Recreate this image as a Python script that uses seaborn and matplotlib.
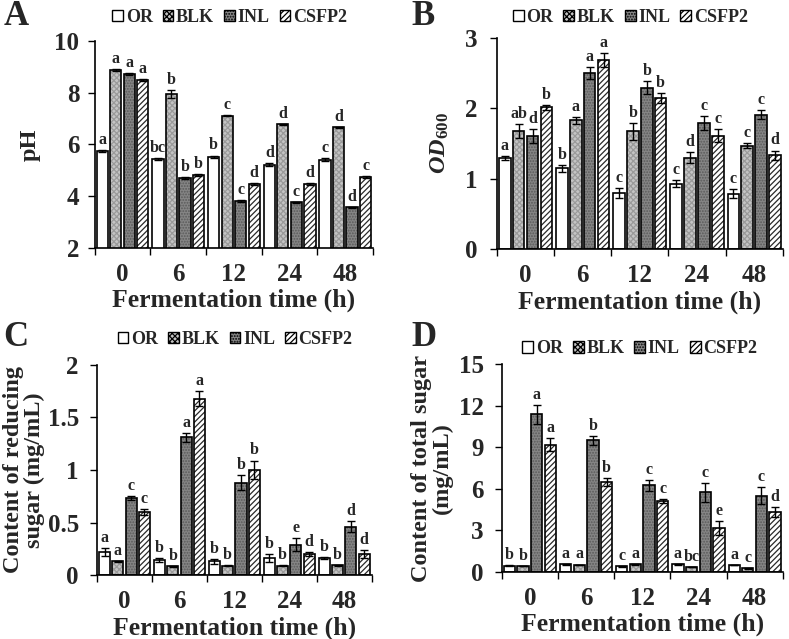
import numpy as np
import pandas as pd
import matplotlib
matplotlib.use("Agg")
import matplotlib.pyplot as plt
import seaborn as sns
from matplotlib.patches import Rectangle, Patch

# ---------------- data ----------------
times = ["0", "6", "12", "24", "48"]
groups = ["OR", "BLK", "INL", "CSFP2"]

# A: pH
ph_OR = [5.75, 5.45, 5.53, 5.22, 5.41]
ph_BLK = [8.87, 7.95, 7.10, 6.78, 6.66]
ph_INL = [8.72, 4.70, 3.80, 3.77, 3.57]
ph_CSFP2 = [8.48, 4.82, 4.47, 4.48, 4.73]
ph_err_OR = [0.03, 0.04, 0.04, 0.06, 0.05]
ph_err_BLK = [0.05, 0.15, 0.02, 0.02, 0.02]
ph_err_INL = [0.03, 0.03, 0.04, 0.02, 0.02]
ph_err_CSFP2 = [0.03, 0.04, 0.02, 0.04, 0.04]
ph_let_OR = ["a", "bc", "b", "d", "c"]
ph_let_BLK = ["a", "b", "c", "d", "d"]
ph_let_INL = ["a", "b", "c", "c", "d"]
ph_let_CSFP2 = ["a", "b", "d", "d", "c"]

# B: OD600
od_OR = [1.29, 1.15, 0.80, 0.93, 0.79]
od_BLK = [1.68, 1.83, 1.67, 1.30, 1.47]
od_INL = [1.61, 2.50, 2.29, 1.79, 1.91]
od_CSFP2 = [2.01, 2.68, 2.14, 1.61, 1.33]
od_err_OR = [0.03, 0.05, 0.07, 0.05, 0.06]
od_err_BLK = [0.10, 0.05, 0.12, 0.08, 0.04]
od_err_INL = [0.10, 0.08, 0.09, 0.10, 0.06]
od_err_CSFP2 = [0.03, 0.10, 0.07, 0.09, 0.07]
od_let_OR = ["a", "b", "c", "c", "c"]
od_let_BLK = ["ab", "a", "b", "d", "c"]
od_let_INL = ["d", "a", "b", "c", "c"]
od_let_CSFP2 = ["b", "a", "b", "c", "d"]

# C: reducing sugar
rs_OR = [0.22, 0.14, 0.13, 0.16, 0.16]
rs_BLK = [0.13, 0.085, 0.09, 0.09, 0.095]
rs_INL = [0.73, 1.31, 0.88, 0.29, 0.46]
rs_CSFP2 = [0.60, 1.68, 1.00, 0.20, 0.20]
rs_err_OR = [0.04, 0.02, 0.02, 0.04, 0.01]
rs_err_BLK = [0.005, 0.005, 0.005, 0.005, 0.005]
rs_err_INL = [0.02, 0.04, 0.07, 0.06, 0.05]
rs_err_CSFP2 = [0.03, 0.07, 0.09, 0.02, 0.04]
rs_let_OR = ["a", "b", "b", "b", "b"]
rs_let_BLK = ["a", "b", "b", "b", "b"]
rs_let_INL = ["c", "a", "b", "e", "d"]
rs_let_CSFP2 = ["c", "a", "b", "d", "d"]

# D: total sugar
ts_OR = [0.45, 0.55, 0.40, 0.55, 0.50]
ts_BLK = [0.42, 0.50, 0.55, 0.35, 0.25]
ts_INL = [11.38, 9.50, 6.25, 5.75, 5.50]
ts_CSFP2 = [9.20, 6.48, 5.10, 3.20, 4.35]
ts_err_OR = [0.02, 0.03, 0.02, 0.03, 0.02]
ts_err_BLK = [0.02, 0.03, 0.03, 0.02, 0.02]
ts_err_INL = [0.70, 0.30, 0.40, 0.70, 0.60]
ts_err_CSFP2 = [0.45, 0.30, 0.15, 0.50, 0.35]
ts_let_OR = ["b", "a", "c", "a", "a"]
ts_let_BLK = ["b", "a", "a", "bc", "c"]
ts_let_INL = ["a", "b", "c", "c", "c"]
ts_let_CSFP2 = ["a", "b", "c", "e", "d"]

# ---------------- style ----------------
sns.set_theme(style="ticks")
plt.rcParams["font.family"] = ["Liberation Serif", "DejaVu Serif"]
plt.rcParams["font.weight"] = "bold"
plt.rcParams["axes.labelweight"] = "bold"
plt.rcParams["mathtext.fontset"] = "custom"
plt.rcParams["mathtext.it"] = "Liberation Serif:italic:bold"
plt.rcParams["mathtext.rm"] = "Liberation Serif"
plt.rcParams["mathtext.bf"] = "Liberation Serif:bold"
plt.rcParams["hatch.linewidth"] = 0.9

styles = {
    "OR": dict(face="white", hatch=None, hc="black"),
    "BLK": dict(face="#c4c4c4", hatch="xxxxxx", hc="#9a9a9a"),
    "INL": dict(face="#858585", hatch="......", hc="#5a5a5a"),
    "CSFP2": dict(face="white", hatch="//////", hc="#2a2a2a"),
}

fig = plt.figure(figsize=(7.89, 6.39), dpi=100)


def panel(rect, vals, errs, lets, ylim, yticks, yticklabels, ylabel, letter,
          letter_xy, leg_xy, ylabelpad, ypad):
    ax = fig.add_axes(rect)
    rows = []
    for g, v in zip(groups, vals):
        for t, y in zip(times, v):
            rows.append(dict(time=t, group=g, value=y))
    df = pd.DataFrame(rows)
    sns.barplot(data=df, x="time", y="value", hue="group", order=times,
                hue_order=groups, width=0.97, gap=0.17, errorbar=None,
                legend=False, ax=ax)
    for i, g in enumerate(groups):
        st = styles[g]
        cont = ax.containers[i]
        for j, bar in enumerate(cont.patches):
            bar.set_facecolor(st["face"])
            bar.set_edgecolor(st["hc"])
            bar.set_linewidth(0)
            if st["hatch"]:
                bar.set_hatch(st["hatch"])
            outline = Rectangle((bar.get_x(), bar.get_y()), bar.get_width(),
                                bar.get_height(), fill=False,
                                edgecolor="black", linewidth=1.2, zorder=3)
            ax.add_patch(outline)
            x = bar.get_x() + bar.get_width() / 2
            h = bar.get_y() + bar.get_height()
            e = errs[i][j]
            ax.errorbar(x, h, yerr=e, fmt="none", ecolor="black",
                        elinewidth=1.0, capsize=3, capthick=1.0, zorder=4)
            ax.annotate(lets[i][j], (x, h + e), xytext=(0, 1.5),
                        textcoords="offset points", ha="center", va="bottom",
                        fontsize=11.5, fontweight="bold")
    ax.set_ylim(*ylim)
    ax.set_xlim(-0.5, 4.5)
    ax.set_yticks(yticks)
    ax.set_yticklabels(yticklabels)
    ax.set_xticks(range(5))
    ax.set_xticklabels(times)
    ax.set_xticks(np.arange(-0.5, 5.0, 1.0), minor=True)
    ax.tick_params(axis="x", which="major", length=0, labelsize=18, pad=11)
    ax.tick_params(axis="x", which="minor", length=5, width=1, color="black")
    ax.tick_params(axis="y", length=5, width=1, labelsize=18, color="black",
                   pad=ypad)
    for lab in ax.get_xticklabels() + ax.get_yticklabels():
        lab.set_fontweight("bold")
    sns.despine(ax=ax)
    for s in ["left", "bottom"]:
        ax.spines[s].set_color("black")
        ax.spines[s].set_linewidth(1.2)
    ax.set_xlabel("Fermentation time (h)", fontsize=18.5, fontweight="bold",
                  labelpad=2)
    ax.set_ylabel(ylabel, fontsize=17.5, fontweight="bold", labelpad=ylabelpad,
                  linespacing=1.0)
    fig.text(letter_xy[0], letter_xy[1], letter, fontsize=25,
             fontweight="bold", ha="left", va="top")
    handles = []
    for g in groups:
        st = styles[g]
        handles.append(Patch(facecolor=st["face"], edgecolor="black",
                             hatch=st["hatch"], linewidth=1.0, label=g))
    fig.legend(handles=handles, loc="center", bbox_to_anchor=leg_xy,
               ncol=4, frameon=False, handlelength=0.6, handleheight=0.6,
               handletextpad=0.15, columnspacing=0.55,
               prop=dict(size=13, weight="bold"))
    return ax


panel([0.120, 0.612, 0.353, 0.324],
      [ph_OR, ph_BLK, ph_INL, ph_CSFP2],
      [ph_err_OR, ph_err_BLK, ph_err_INL, ph_err_CSFP2],
      [ph_let_OR, ph_let_BLK, ph_let_INL, ph_let_CSFP2],
      (2, 10), [2, 4, 6, 8, 10], ["2", "4", "6", "8", "10"], "pH", "A",
      (0.004, 1.0), (0.291, 0.973), 10, 6)

panel([0.630, 0.610, 0.362, 0.331],
      [od_OR, od_BLK, od_INL, od_CSFP2],
      [od_err_OR, od_err_BLK, od_err_INL, od_err_CSFP2],
      [od_let_OR, od_let_BLK, od_let_INL, od_let_CSFP2],
      (0, 3), [0, 1, 2, 3], ["0", "1", "2", "3"], r"$OD_{600}$", "B",
      (0.522, 1.0), (0.799, 0.973), 10, 9)

panel([0.123, 0.100, 0.348, 0.329],
      [rs_OR, rs_BLK, rs_INL, rs_CSFP2],
      [rs_err_OR, rs_err_BLK, rs_err_INL, rs_err_CSFP2],
      [rs_let_OR, rs_let_BLK, rs_let_INL, rs_let_CSFP2],
      (0, 2), [0, 0.5, 1, 1.5, 2], ["0", "0.5", "1", "1.5", "2"],
      "Content of reducing\nsugar (mg/mL)", "C",
      (0.004, 0.497), (0.298, 0.469), 2, 8)

panel([0.636, 0.105, 0.356, 0.325],
      [ts_OR, ts_BLK, ts_INL, ts_CSFP2],
      [ts_err_OR, ts_err_BLK, ts_err_INL, ts_err_CSFP2],
      [ts_let_OR, ts_let_BLK, ts_let_INL, ts_let_CSFP2],
      (0, 15), [0, 3, 6, 9, 12, 15], ["0", "3", "6", "9", "12", "15"],
      "Content of total sugar\n(mg/mL)", "D",
      (0.522, 0.497), (0.811, 0.454), 4, 8)

fig.savefig("out.png", dpi=100, facecolor="white")
